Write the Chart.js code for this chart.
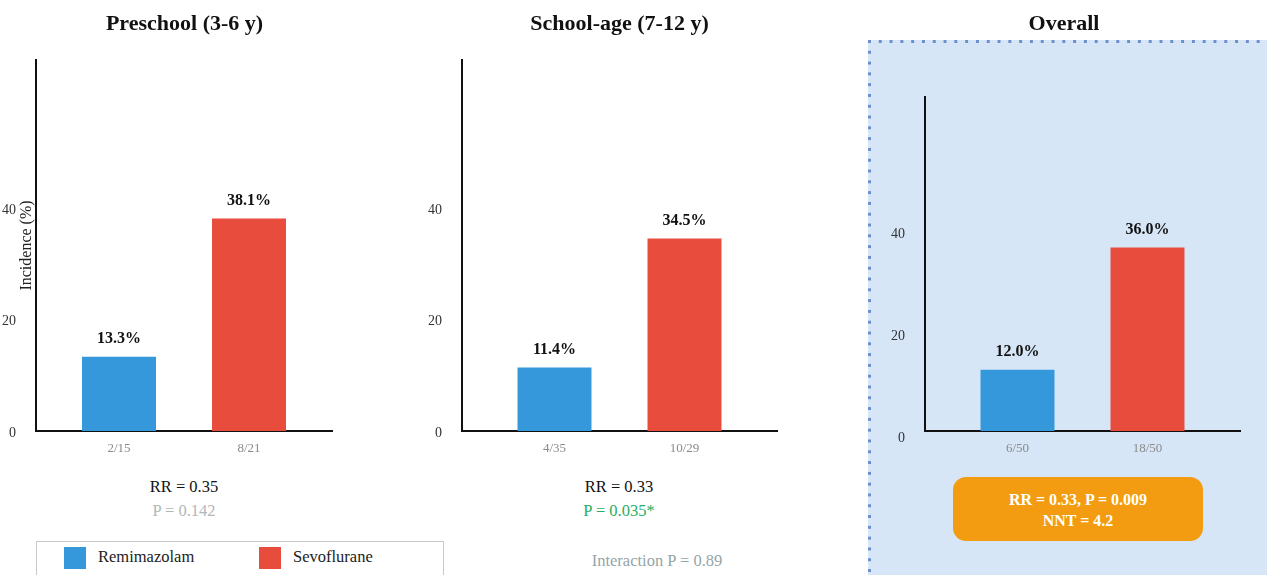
<!DOCTYPE html>
<html>
<head>
<meta charset="utf-8">
<script src="https://cdn.jsdelivr.net/npm/chart.js@4.4.0/dist/chart.umd.min.js"></script>
<style>
  body {
    margin: 0;
    width: 1267px;
    height: 575px;
    overflow: hidden;
    position: relative;
    background: #fff;
    font-family: "Liberation Serif", "Times New Roman", serif;
  }
  .panel { position: absolute; top: 0; height: 470px; }
  .txt { position: absolute; transform: translate(-50%, -50%); white-space: nowrap; }
  .title { font-size: 22px; font-weight: bold; color: #111; }
  .stat { font-size: 16.5px; color: #111; }
  #overallBox {
    position: absolute; left: 868px; top: 40px; width: 420px; height: 560px;
    background:
      linear-gradient(to right, #6a8fcc 3px, transparent 3px) 0 0 / 10.8px 3px repeat-x,
      linear-gradient(to bottom, #6a8fcc 3px, transparent 3px) 0 0 / 3px 10.8px repeat-y,
      #d6e6f7;
  }
  #summary {
    position: absolute; left: 953px; top: 477px; width: 250px; height: 64px;
    background: #f39c12; border-radius: 13px; color: #fff;
    font-weight: bold; font-size: 16px; text-align: center; line-height: 21px;
    box-sizing: border-box; padding-top: 12px;
  }
  #legend {
    position: absolute; left: 36px; top: 541px; width: 406px; height: 50px;
    border: 1px solid #c8c8c8; background: #fff;
  }
  .swatch { position: absolute; top: 5px; width: 22px; height: 22px; }
  .legtxt { position: absolute; top: 5px; font-size: 16.5px; color: #222; }
</style>
</head>
<body>
<div id="overallBox"></div>

<script>
// incidence by age group
const groupTitles = ['Preschool (3-6 y)', 'School-age (7-12 y)', 'Overall'];
const seriesNames = ['Remimazolam', 'Sevoflurane'];
const remimazolamPct = [13.3, 11.4, 12.0];
const sevofluranePct = [38.1, 34.5, 36.0];
const remimazolamCounts = ['2/15', '4/35', '6/50'];
const sevofluraneCounts = ['8/21', '10/29', '18/50'];
const yTicks = [0, 20, 40];
const rrValues = ['0.35', '0.33', '0.33'];
const pValues = ['0.142', '0.035*', '0.009'];
const nntOverall = '4.2';
const interactionP = '0.89';

const colors = ['#3498db', '#e74c3c'];
const serif = '"Liberation Serif", "Times New Roman", serif';

// where each little chart sits on the page
const panels = [
  { left: 0,   width: 345, top: 60, right: 13, yMax: 66.5, labelOffset: 2, yTitle: 'Incidence (%)', cx: 184.5 },
  { left: 426, width: 360, top: 60, right: 9,  yMax: 66.5, labelOffset: 2, cx: 619.5 },
  { left: 889, width: 360, top: 97, right: 9,  yMax: 65.5, labelOffset: 7, cx: 1064 }
];

// percentage above each bar, n/N under it
const barText = {
  id: 'barText',
  afterDatasetsDraw(chart, args, opts) {
    const { ctx, chartArea } = chart;
    chart.data.datasets.forEach((ds, i) => {
      const bar = chart.getDatasetMeta(i).data[0];
      ctx.save();
      ctx.textAlign = 'center';
      ctx.textBaseline = 'middle';
      ctx.font = 'bold 16px ' + serif;
      ctx.fillStyle = '#111';
      ctx.fillText(ds.data[0].toFixed(1) + '%', bar.x, bar.y - 18);
      ctx.font = '13px ' + serif;
      ctx.fillStyle = '#8a8a8a';
      ctx.fillText(opts.counts[i], bar.x, chartArea.bottom + 18);
      ctx.restore();
    });
  }
};

function addText(html, x, y, cls, color) {
  const d = document.createElement('div');
  d.className = 'txt ' + cls;
  d.style.left = x + 'px';
  d.style.top = y + 'px';
  if (color) d.style.color = color;
  d.innerHTML = html;
  document.body.appendChild(d);
}

panels.forEach((p, k) => {
  const box = document.createElement('div');
  box.className = 'panel';
  box.style.left = p.left + 'px';
  box.style.width = p.width + 'px';
  const canvas = document.createElement('canvas');
  box.appendChild(canvas);
  document.body.appendChild(box);

  const areaWidth = p.width - p.right - 36;

  new Chart(canvas, {
    type: 'bar',
    data: {
      labels: [''],
      datasets: [
        { label: seriesNames[0], data: [remimazolamPct[k]], backgroundColor: colors[0] },
        { label: seriesNames[1], data: [sevofluranePct[k]], backgroundColor: colors[1] }
      ]
    },
    options: {
      responsive: true,
      maintainAspectRatio: false,
      animation: false,
      categoryPercentage: 260 / areaWidth,
      barPercentage: 0.569,
      layout: { padding: { top: p.top, right: p.right, left: 0, bottom: 0 } },
      plugins: {
        legend: { display: false },
        tooltip: { enabled: false },
        barText: { counts: [remimazolamCounts[k], sevofluraneCounts[k]] }
      },
      scales: {
        x: {
          grid: { display: false },
          border: { display: true, color: '#111', width: 2 },
          ticks: { display: false },
          afterFit: s => { s.height = 39; }
        },
        y: {
          min: 0,
          max: p.yMax,
          afterBuildTicks: s => { s.ticks = yTicks.map(v => ({ value: v })); },
          afterFit: s => { s.width = 36; },
          grid: { display: false },
          border: { display: true, color: '#111', width: 2 },
          ticks: {
            padding: 12,
            labelOffset: p.labelOffset,
            color: '#333',
            font: { family: serif, size: 14 }
          },
          title: {
            display: !!p.yTitle,
            text: p.yTitle || '',
            color: '#222',
            font: { family: serif, size: 16 },
            padding: { top: 17, bottom: 0 }
          }
        }
      }
    },
    plugins: [barText]
  });

  addText(groupTitles[k], p.cx, 23, 'title');
});

// statistics under the subgroup charts
addText('RR = ' + rrValues[0], 184, 487, 'stat');
addText('P = ' + pValues[0], 184, 511, 'stat', '#b0b8b8');
addText('RR = ' + rrValues[1], 619, 487, 'stat');
addText('P = ' + pValues[1], 619, 511, 'stat', '#27ae60');
addText('Interaction P = ' + interactionP, 657, 561, 'stat', '#95a5a6');

const summary = document.createElement('div');
summary.id = 'summary';
summary.innerHTML = 'RR = ' + rrValues[2] + ', P = ' + pValues[2] + '<br>NNT = ' + nntOverall;
document.body.appendChild(summary);

// legend
const legend = document.createElement('div');
legend.id = 'legend';
legend.innerHTML =
  '<div class="swatch" style="left:27px;background:' + colors[0] + '"></div>' +
  '<div class="legtxt" style="left:61px">' + seriesNames[0] + '</div>' +
  '<div class="swatch" style="left:222px;background:' + colors[1] + '"></div>' +
  '<div class="legtxt" style="left:256px">' + seriesNames[1] + '</div>';
document.body.appendChild(legend);
</script>
</body>
</html>
